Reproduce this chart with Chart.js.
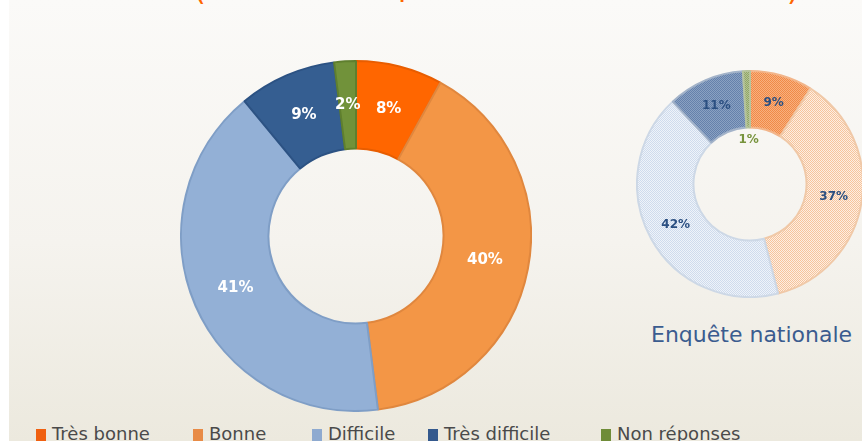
<!DOCTYPE html>
<html>
<head>
  <meta charset="utf-8">
  <title>Enquête - répartition</title>
  <script src="https://cdn.jsdelivr.net/npm/chart.js@4"></script>
  <style>
    html, body { margin: 0; padding: 0; }
    body { width: 862px; height: 441px; overflow: hidden; position: relative; background: #fff; font-family: "DejaVu Sans", sans-serif; }
    #panel { position: absolute; left: 9px; top: 0; width: 853px; height: 441px; background: linear-gradient(#fbfaf8, #f5f3ee 55%, #ece9de); }
    .paren { position: absolute; color: #ff6600; font-size: 30px; line-height: 30px; top: -25px; }
    #mainBox { position: absolute; left: 180px; top: 60px; width: 352px; height: 352px; }
    #natBox { position: absolute; left: 636px; top: 70px; width: 228px; height: 228px; }
    #natTitle { position: absolute; left: 651px; top: 322px; font-size: 22px; line-height: 26px; color: #3b5c8f; white-space: nowrap; }
    .leg { position: absolute; top: 424px; font-size: 18px; color: #4a4a4a; white-space: nowrap; line-height: 20px; }
    .leg i { display: inline-block; width: 10px; height: 12px; margin-right: 6px; vertical-align: -1px; }
  </style>
</head>
<body>
  <div id="panel"></div>
  <span class="paren" style="left:194px">(</span>
  <span class="paren" style="left:398px; top:-29px">p</span>
  <span class="paren" style="left:787px">)</span>

  <div id="mainBox"><canvas id="mainChart"></canvas></div>
  <div id="natBox"><canvas id="natChart"></canvas></div>
  <div id="natTitle">Enquête nationale</div>
  <div id="legend"></div>

  <script>
    // categories and values
    var categories = ["Très bonne", "Bonne", "Difficile", "Très difficile", "Non réponses"];
    var localValues = [8, 40, 41, 9, 2];
    var nationalValues = [9, 37, 42, 11, 1];

    var fillColors = ["#ff6600", "#f39646", "#93b0d6", "#355e91", "#71923a"];
    var edgeColors = ["#e85d00", "#e0873e", "#7f9ec6", "#2c5283", "#5f7f2e"];
    var legendColors = ["#f06010", "#e88b46", "#8eaad0", "#34598d", "#6f8c38"];
    var legendLeft = [36, 193, 312, 428, 601];

    // stippled fills for the national chart
    function dots(base, dot) {
      var c = document.createElement("canvas");
      c.width = 2; c.height = 2;
      var g = c.getContext("2d");
      g.fillStyle = base; g.fillRect(0, 0, 2, 2);
      g.fillStyle = dot; g.fillRect(0, 0, 1, 1); g.fillRect(1, 1, 1, 1);
      return g.createPattern(c, "repeat");
    }
    var natFills = [
      dots("#f8b07e", "#f08a48"),
      dots("#fdeee2", "#f6c49c"),
      dots("#eef3fa", "#cfdbec"),
      dots("#8aa1c2", "#6581ab"),
      dots("#b3c294", "#90a666")
    ];
    var natEdges = ["#f2b58a", "#f0c9a8", "#cdd8e6", "#a3b3c9", "#b5c39b"];

    var arcLabels = {
      id: "arcLabels",
      afterDatasetsDraw: function(chart, args, opts) {
        var ctx = chart.ctx;
        var meta = chart.getDatasetMeta(0);
        var data = chart.data.datasets[0].data;
        ctx.save();
        ctx.textAlign = "center";
        ctx.textBaseline = "middle";
        ctx.font = opts.font;
        meta.data.forEach(function(arc, i) {
          var p = arc.tooltipPosition();
          if (opts.inside && opts.inside[i]) {
            var mid = (arc.startAngle + arc.endAngle) / 2;
            var r = arc.innerRadius * opts.inside[i];
            p = { x: arc.x + Math.cos(mid) * r, y: arc.y + Math.sin(mid) * r };
          }
          ctx.fillStyle = (opts.colors && opts.colors[i]) || opts.color;
          ctx.fillText(data[i] + "%", p.x, p.y);
        });
        ctx.restore();
      }
    };

    new Chart(document.getElementById("mainChart"), {
      type: "doughnut",
      data: {
        labels: categories,
        datasets: [{ data: localValues, backgroundColor: fillColors, borderColor: edgeColors, borderWidth: 2 }]
      },
      options: {
        responsive: true, maintainAspectRatio: false, animation: false,
        cutout: "50%",
        plugins: {
          legend: { display: false }, tooltip: { enabled: false },
          arcLabels: { font: "bold 15px 'DejaVu Sans'", color: "#ffffff" }
        }
      },
      plugins: [arcLabels]
    });

    new Chart(document.getElementById("natChart"), {
      type: "doughnut",
      data: {
        labels: categories,
        datasets: [{ data: nationalValues, backgroundColor: natFills, borderColor: natEdges, borderWidth: 2 }]
      },
      options: {
        responsive: true, maintainAspectRatio: false, animation: false,
        cutout: "50%",
        plugins: {
          legend: { display: false }, tooltip: { enabled: false },
          arcLabels: {
            font: "bold 12px 'DejaVu Sans'", color: "#2b4f81",
            colors: [null, null, null, null, "#77933c"],
            inside: [0, 0, 0, 0, 0.78]
          }
        }
      },
      plugins: [arcLabels]
    });

    // legend
    var legend = document.getElementById("legend");
    categories.forEach(function(name, i) {
      var d = document.createElement("div");
      d.className = "leg";
      d.style.left = legendLeft[i] + "px";
      d.innerHTML = '<i style="background:' + legendColors[i] + '"></i>' + name;
      legend.appendChild(d);
    });
  </script>
</body>
</html>
